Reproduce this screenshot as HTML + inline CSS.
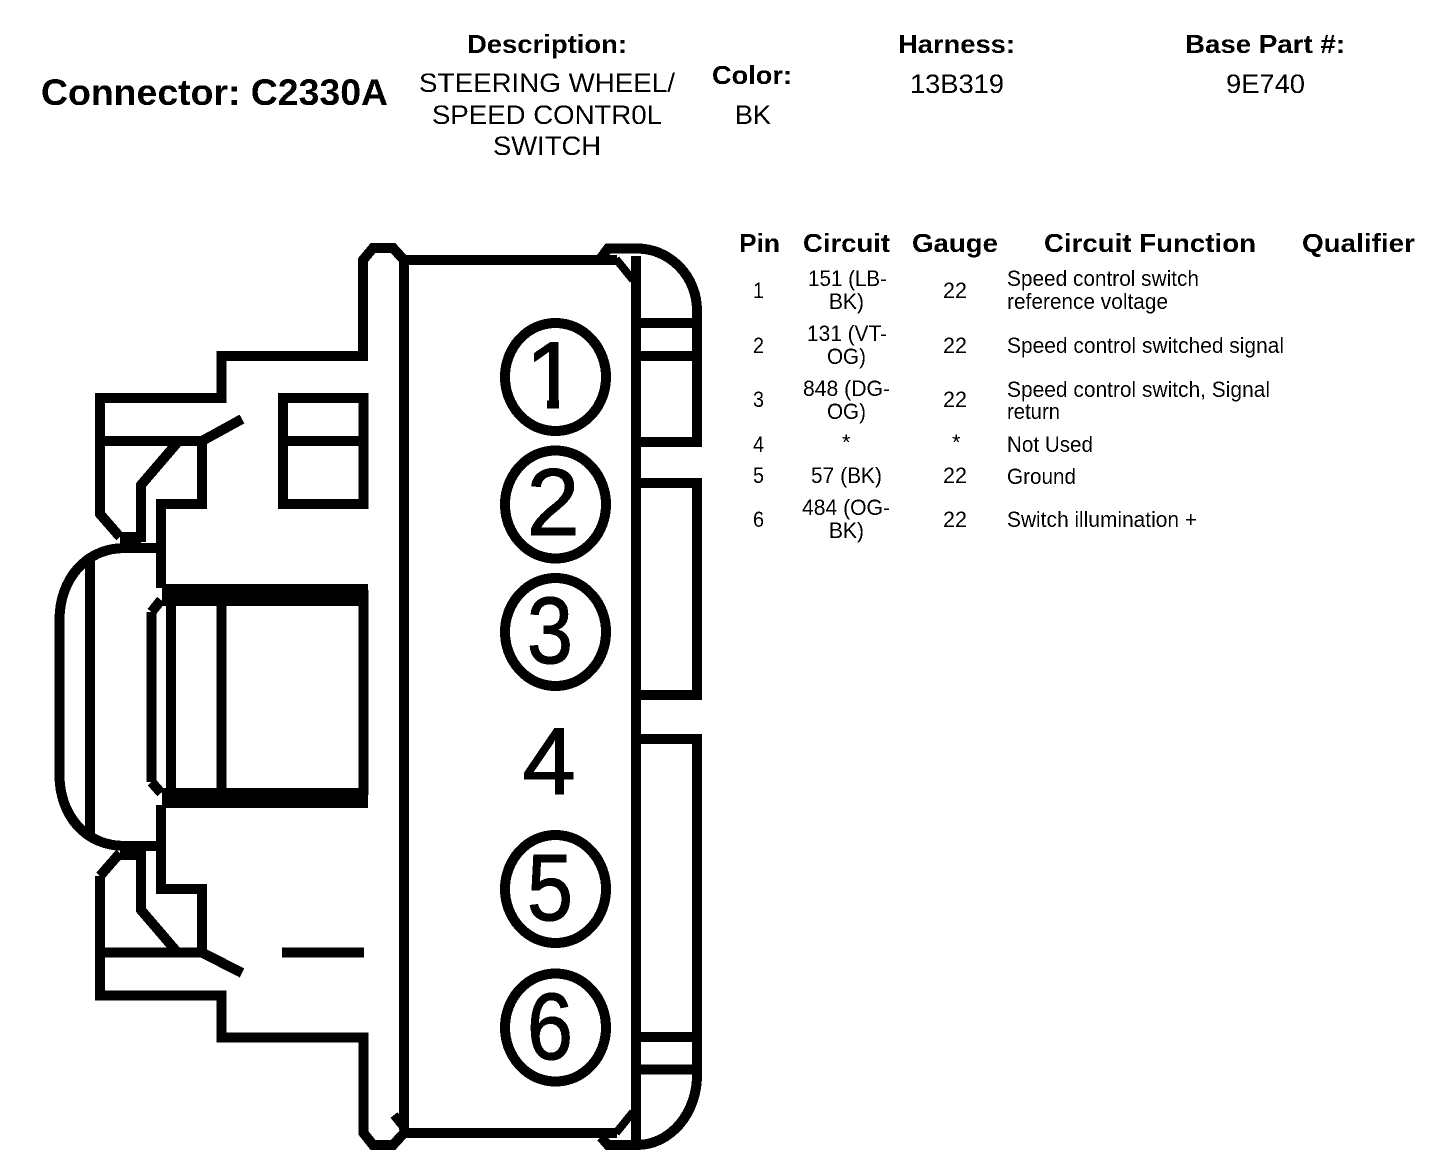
<!DOCTYPE html>
<html>
<head>
<meta charset="utf-8">
<style>
html,body{margin:0;padding:0;background:#fff;width:1456px;height:1170px;overflow:hidden}
svg{display:block}
text{font-family:"Liberation Sans",Arial,sans-serif;fill:#000}
.b{font-weight:bold;font-size:26px}
.h{font-size:27px}
.t{font-size:22px}
.n{font-size:95px;text-anchor:middle;stroke:#000;stroke-width:1.2px}
</style>
</head>
<body>
<svg xmlns="http://www.w3.org/2000/svg" width="1456" height="1170" viewBox="0 0 1456 1170">
<defs>
<filter id="bw" x="0" y="0" width="1456" height="1170" filterUnits="userSpaceOnUse" color-interpolation-filters="sRGB">
<feComponentTransfer><feFuncA type="discrete" tableValues="0 1"/></feComponentTransfer>
</filter>
</defs>
<rect width="1456" height="1170" fill="#fff"/>
<g filter="url(#bw)">
<!-- header -->
<text x="41" y="105" font-size="37" font-weight="bold" textLength="347" lengthAdjust="spacingAndGlyphs">Connector: C2330A</text>
<text class="b" x="467" y="53" textLength="160" lengthAdjust="spacingAndGlyphs">Description:</text>
<text class="h" x="419" y="92" textLength="256" lengthAdjust="spacingAndGlyphs">STEERING WHEEL/</text>
<text class="h" x="432" y="124" textLength="230" lengthAdjust="spacingAndGlyphs">SPEED CONTR0L</text>
<text class="h" x="493" y="155" textLength="108" lengthAdjust="spacingAndGlyphs">SWITCH</text>
<text class="b" x="712" y="84" textLength="80" lengthAdjust="spacingAndGlyphs">Color:</text>
<text class="h" x="735" y="124" textLength="36" lengthAdjust="spacingAndGlyphs">BK</text>
<text class="b" x="898" y="53" textLength="117" lengthAdjust="spacingAndGlyphs">Harness:</text>
<text class="h" x="910" y="93" textLength="94" lengthAdjust="spacingAndGlyphs">13B319</text>
<text class="b" x="1185" y="53" textLength="160" lengthAdjust="spacingAndGlyphs">Base Part #:</text>
<text class="h" x="1226" y="93" textLength="79" lengthAdjust="spacingAndGlyphs">9E740</text>
<!-- table header -->
<text class="b" x="739" y="252" textLength="41" lengthAdjust="spacingAndGlyphs">Pin</text>
<text class="b" x="803" y="252" textLength="87" lengthAdjust="spacingAndGlyphs">Circuit</text>
<text class="b" x="912" y="252" textLength="86" lengthAdjust="spacingAndGlyphs">Gauge</text>
<text class="b" x="1044" y="252" textLength="212" lengthAdjust="spacingAndGlyphs">Circuit Function</text>
<text class="b" x="1302" y="252" textLength="113" lengthAdjust="spacingAndGlyphs">Qualifier</text>
<!-- pins -->
<text class="t" x="753" y="298" textLength="11" lengthAdjust="spacingAndGlyphs">1</text>
<text class="t" x="753" y="353" textLength="11" lengthAdjust="spacingAndGlyphs">2</text>
<text class="t" x="753" y="407" textLength="11" lengthAdjust="spacingAndGlyphs">3</text>
<text class="t" x="753" y="452" textLength="11" lengthAdjust="spacingAndGlyphs">4</text>
<text class="t" x="753" y="483" textLength="11" lengthAdjust="spacingAndGlyphs">5</text>
<text class="t" x="753" y="527" textLength="11" lengthAdjust="spacingAndGlyphs">6</text>
<!-- circuits -->
<text class="t" x="808" y="286" textLength="79" lengthAdjust="spacingAndGlyphs">151 (LB-</text>
<text class="t" x="829" y="309" textLength="35" lengthAdjust="spacingAndGlyphs">BK)</text>
<text class="t" x="807" y="341" textLength="80" lengthAdjust="spacingAndGlyphs">131 (VT-</text>
<text class="t" x="827" y="364" textLength="39" lengthAdjust="spacingAndGlyphs">OG)</text>
<text class="t" x="803" y="396" textLength="87" lengthAdjust="spacingAndGlyphs">848 (DG-</text>
<text class="t" x="827" y="419" textLength="39" lengthAdjust="spacingAndGlyphs">OG)</text>
<text class="t" x="842" y="450">*</text>
<text class="t" x="811" y="483" textLength="71" lengthAdjust="spacingAndGlyphs">57 (BK)</text>
<text class="t" x="802" y="515" textLength="88" lengthAdjust="spacingAndGlyphs">484 (OG-</text>
<text class="t" x="829" y="538" textLength="35" lengthAdjust="spacingAndGlyphs">BK)</text>
<!-- gauge -->
<text class="t" x="943" y="298" textLength="24" lengthAdjust="spacingAndGlyphs">22</text>
<text class="t" x="943" y="353" textLength="24" lengthAdjust="spacingAndGlyphs">22</text>
<text class="t" x="943" y="407" textLength="24" lengthAdjust="spacingAndGlyphs">22</text>
<text class="t" x="952" y="450">*</text>
<text class="t" x="943" y="483" textLength="24" lengthAdjust="spacingAndGlyphs">22</text>
<text class="t" x="943" y="527" textLength="24" lengthAdjust="spacingAndGlyphs">22</text>
<!-- function -->
<text class="t" x="1007" y="286" textLength="192" lengthAdjust="spacingAndGlyphs">Speed control switch</text>
<text class="t" x="1007" y="309" textLength="161" lengthAdjust="spacingAndGlyphs">reference voltage</text>
<text class="t" x="1007" y="353" textLength="277" lengthAdjust="spacingAndGlyphs">Speed control switched signal</text>
<text class="t" x="1007" y="397" textLength="263" lengthAdjust="spacingAndGlyphs">Speed control switch, Signal</text>
<text class="t" x="1007" y="419" textLength="53" lengthAdjust="spacingAndGlyphs">return</text>
<text class="t" x="1007" y="452" textLength="86" lengthAdjust="spacingAndGlyphs">Not Used</text>
<text class="t" x="1007" y="484" textLength="69" lengthAdjust="spacingAndGlyphs">Ground</text>
<text class="t" x="1007" y="527" textLength="190" lengthAdjust="spacingAndGlyphs">Switch illumination +</text>
<!-- connector digits -->
<text class="n" x="552" y="408">1</text>
<rect x="526" y="398" width="21" height="14" fill="#fff"/>
<rect x="559" y="398" width="22" height="14" fill="#fff"/>
<text class="n" x="553" y="535">2</text>
<text class="n" x="550" y="663" textLength="46" lengthAdjust="spacingAndGlyphs">3</text>
<text class="n" x="549" y="794">4</text>
<text class="n" x="550" y="920" textLength="46" lengthAdjust="spacingAndGlyphs">5</text>
<text class="n" x="550" y="1059" textLength="46" lengthAdjust="spacingAndGlyphs">6</text>
<!-- connector outline -->
<g fill="none" stroke="#000" stroke-width="10" stroke-linejoin="miter">
<ellipse cx="555.5" cy="377" rx="50.5" ry="54"/>
<ellipse cx="555.5" cy="504.5" rx="50.5" ry="54"/>
<ellipse cx="555.5" cy="632" rx="50.5" ry="54"/>
<ellipse cx="555.5" cy="889" rx="50.5" ry="54"/>
<ellipse cx="555.5" cy="1027.5" rx="50.5" ry="54"/>
<!-- top outline -->
<path d="M120 537 L100 514 V398 H221.5 V356 H363 V260 L373 248 H393 L404 260 H617"/>
<path d="M404 260 V1130"/>
<path d="M636 256 V1142"/>
<!-- bottom outline -->
<path d="M100 876 V995.5 H221.5 V1037.5 H363.5 V1133 L373 1145 H393 L404 1133 H617"/>
<path d="M120 853 L100 876"/>
<path d="M394 1115 L402 1125" stroke-width="9"/>
<!-- right side -->
<path d="M601 258 L608 248.500 H637 A60 62 0 0 1 697 310 V442 H636"/>
<path d="M636 323 H697 M636 356 H697"/>
<path d="M636 483 H697 V695 H636"/>
<path d="M636 739 H697 V1075 A60 70 0 0 1 637 1145 H608 L601 1137"/>
<path d="M636 1037 H697 M636 1069.500 H697"/>
<path d="M616 259 L633 280" stroke-width="8"/>
<path d="M616 1133 L633 1112" stroke-width="8"/>
<!-- upper left latch -->
<path d="M100 441 H202"/>
<path d="M120 537 H141 V485 L177 443"/>
<path d="M202 441 L242 419"/>
<path d="M202 436 V504 H161 V588"/>
<rect x="283" y="398" width="80.500" height="106"/>
<path d="M283 441 H363.500"/>
<!-- left lobe -->
<path d="M161 548 H125 C85 548 59.500 580 59.500 620 V775 C59.500 815 85 846 125 846 H161"/>
<path d="M90 558 V836"/>
<!-- centre block -->
<path d="M171 600 V795 M221.500 600 V795 M363.500 590 V795"/>
<path d="M151.500 612 V782 M151.500 612 L161 600 M151.500 782 L161 793"/>
<!-- lower left latch -->
<path d="M161 805 V889 H202 V957"/>
<path d="M100 952.500 H202"/>
<path d="M120 855 H141 V910 L177 952"/>
<path d="M202 952.500 L242 973"/>
<path d="M282 952.500 H364"/>
</g>
<rect x="120" y="532" width="21" height="14" fill="#000"/>
<rect x="120" y="848" width="21" height="12" fill="#000"/>
<rect x="162" y="584" width="206" height="22" fill="#000"/>
<rect x="162" y="788" width="206" height="20" fill="#000"/>
</g>
</svg>
</body>
</html>
